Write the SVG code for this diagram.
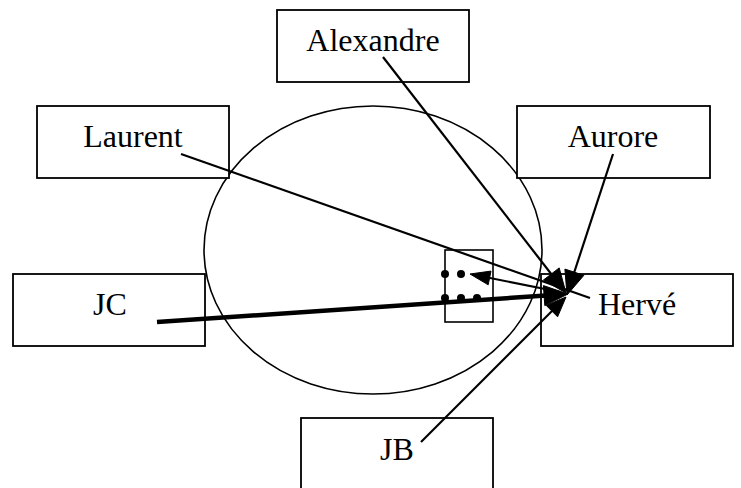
<svg xmlns="http://www.w3.org/2000/svg" width="741" height="488" viewBox="0 0 741 488">
<style>
.box{fill:#fff;stroke:#000;stroke-width:1.8}
.lbl{font-family:"Liberation Serif","Times New Roman",serif;font-size:32px;fill:#000;text-anchor:middle}
.ln{stroke:#000;stroke-width:2.2;fill:none}
.thick{stroke-width:4.5}
.hd{fill:#000;stroke:#000;stroke-width:1;stroke-linejoin:round}
</style>
<rect width="741" height="488" fill="#fff"/>
<ellipse cx="373" cy="250" rx="169" ry="144" fill="none" stroke="#000" stroke-width="1.6"/>
<g id="alexandre"><rect class="box" x="277" y="10" width="192" height="72"/><text class="lbl" x="373" y="51">Alexandre</text></g>
<g id="laurent"><rect class="box" x="37" y="106" width="192" height="72"/><text class="lbl" x="133" y="147">Laurent</text></g>
<g id="aurore"><rect class="box" x="517" y="106" width="193" height="72"/><text class="lbl" x="613" y="147">Aurore</text></g>
<g id="jc"><rect class="box" x="13" y="274" width="192" height="72"/><text class="lbl" x="110" y="315">JC</text></g>
<g id="herve"><rect class="box" x="541" y="274" width="192" height="72"/><text class="lbl" x="637" y="315">Hervé</text></g>
<g id="jb"><rect class="box" x="301" y="418" width="192" height="80"/><text class="lbl" x="397" y="460">JB</text></g>
<g id="group"><rect x="445" y="250" width="48" height="72" fill="none" stroke="#000" stroke-width="1.6"/>
<circle cx="445" cy="274" r="4"/><circle cx="461" cy="274" r="4"/>
<circle cx="445" cy="298" r="4"/><circle cx="461" cy="298" r="4"/><circle cx="477" cy="298" r="4"/></g>
<g id="connectors">
<line class="ln" x1="181" y1="154" x2="590" y2="298"/>
<line class="ln" x1="560" y1="292" x2="485" y2="277"/>
<polygon class="hd" points="470,274 491,271.1 488.2,284.8"/>
<line class="ln" x1="383" y1="57" x2="552" y2="275"/>
<polygon class="hd" points="566,293 543.4,280.1 559.2,267.9"/>
<line class="ln" x1="613" y1="154" x2="574" y2="273"/>
<polygon class="hd" points="567,295 564.9,269.1 583.9,275.3"/>
<line class="ln thick" x1="157" y1="322" x2="546" y2="295.5"/>
<polygon class="hd" points="568,294 544.8,305.6 543.4,285.6"/>
<line class="ln" x1="421" y1="442" x2="553" y2="310"/>
<polygon class="hd" points="566,297 557.6,316.8 546.2,305.4"/>
</g>
</svg>
